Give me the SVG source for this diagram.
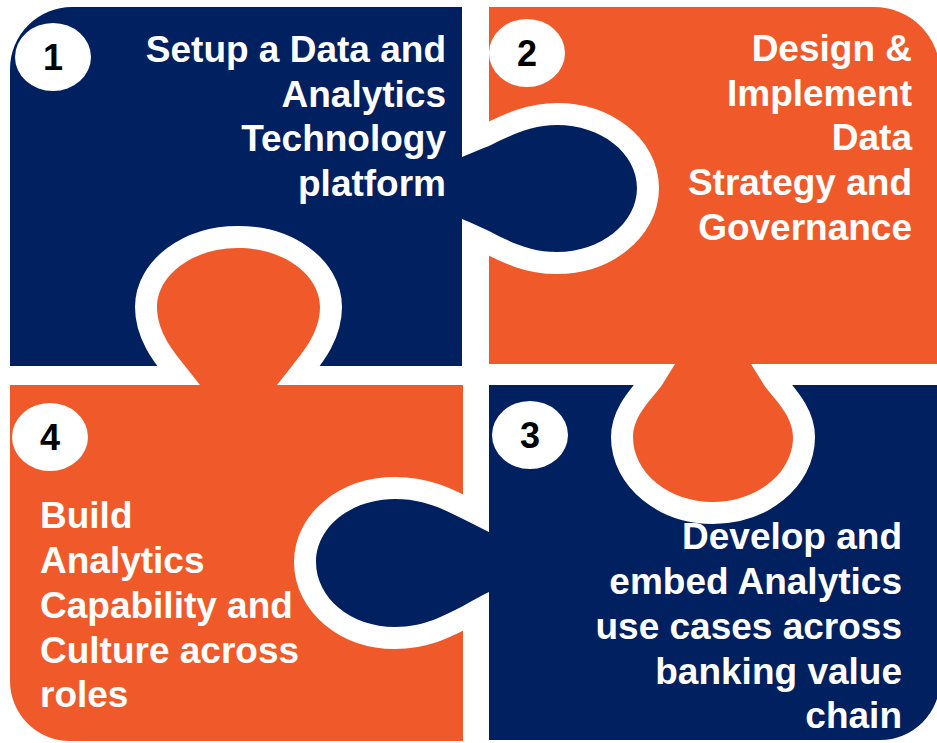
<svg xmlns="http://www.w3.org/2000/svg" width="937" height="743" viewBox="0 0 937 743">
  <style>
    .navy { fill: #002060; }
    .orange { fill: #F05A2A; }
    .badge { fill: #ffffff; }
    .num { font-family: "Liberation Sans", Arial, sans-serif; font-weight: bold; font-size: 36px; fill: #000000; text-anchor: middle; }
    .lbl { font-family: "Liberation Sans", Arial, sans-serif; font-weight: bold; font-size: 37px; fill: #ffffff; }
    .end { text-anchor: end; }
    .hole { fill: #000; stroke: #000; stroke-width: 44; stroke-linejoin: round; }
  </style>
  <defs>
    <path id="knobA" d="M 458,157 L 462,157 C 472,153 480,149 489,146 C 510,136 530,125 557,125 C 601,125 637,153 637,188 C 637,223 601,252 557,252 C 530,252 510,242 489,231 C 480,227 472,223 462,219 L 458,219 Z"/>
    <path id="knobB" d="M 200,389 L 200,385 L 185,366 C 175,353 157,333 157,307 C 157,275 193,248 238,248 C 284,248 320,275 320,307 C 320,333 302,353 292,366 L 277,385 L 277,389 Z"/>
    <path id="knobC" d="M 675,360 L 675,364 L 662,385 C 653,398 633,415 633,437 C 633,473 669,502 713,502 C 757,502 793,473 793,437 C 793,415 773,398 764,385 L 751,364 L 751,360 Z"/>
    <path id="knobD" d="M 493,532 L 489,532 C 480,528 472,523 463,519 C 445,510 425,499 395,499 C 351,499 316,527 316,562 C 316,598 351,627 395,627 C 425,627 445,615 463,606 C 472,601 480,596 489,592 L 493,592 Z"/>
    <mask id="mB" maskUnits="userSpaceOnUse" x="0" y="0" width="937" height="743">
      <rect width="937" height="743" fill="#fff"/>
      <use href="#knobB" class="hole"/>
    </mask>
    <mask id="mA" maskUnits="userSpaceOnUse" x="0" y="0" width="937" height="743">
      <rect width="937" height="743" fill="#fff"/>
      <use href="#knobA" class="hole"/>
    </mask>
    <mask id="mC" maskUnits="userSpaceOnUse" x="0" y="0" width="937" height="743">
      <rect width="937" height="743" fill="#fff"/>
      <use href="#knobC" class="hole"/>
    </mask>
    <mask id="mD" maskUnits="userSpaceOnUse" x="0" y="0" width="937" height="743">
      <rect width="937" height="743" fill="#fff"/>
      <use href="#knobD" class="hole"/>
    </mask>
  </defs>
  <rect width="937" height="743" fill="#ffffff"/>

  <g id="piece1">
    <g mask="url(#mB)">
      <path class="navy" d="M 10,69 A 62 62 0 0 1 72,7 L 462,7 L 462,366 L 10,366 Z"/>
      <use href="#knobA" class="navy"/>
    </g>
    <ellipse class="badge" cx="53" cy="57" rx="38" ry="34"/>
    <text class="num" x="53" y="70">1</text>
    <text class="lbl end" x="446" y="62">Setup a Data and</text>
    <text class="lbl end" x="446" y="106.5">Analytics</text>
    <text class="lbl end" x="446" y="151">Technology</text>
    <text class="lbl end" x="446" y="195.5">platform</text>
  </g>

  <g id="piece2">
    <g mask="url(#mA)">
      <path class="orange" d="M 489,7 L 874,7 A 66 66 0 0 1 940,73 L 940,364 L 489,364 Z"/>
      <use href="#knobC" class="orange"/>
    </g>
    <ellipse class="badge" cx="527" cy="53" rx="38" ry="34"/>
    <text class="num" x="527" y="66">2</text>
    <text class="lbl end" x="912" y="61">Design &amp;</text>
    <text class="lbl end" x="912" y="105.5">Implement</text>
    <text class="lbl end" x="912" y="150">Data</text>
    <text class="lbl end" x="912" y="195">Strategy and</text>
    <text class="lbl end" x="912" y="239.5">Governance</text>
  </g>

  <g id="piece3">
    <g mask="url(#mC)">
      <path class="navy" d="M 489,385 L 940,385 L 940,680 A 60 60 0 0 1 880,740 L 489,740 Z"/>
      <use href="#knobD" class="navy"/>
    </g>
    <ellipse class="badge" cx="530" cy="435" rx="38" ry="34"/>
    <text class="num" x="530" y="448">3</text>
    <text class="lbl end" x="902" y="549">Develop and</text>
    <text class="lbl end" x="902" y="594">embed Analytics</text>
    <text class="lbl end" x="902" y="639">use cases across</text>
    <text class="lbl end" x="902" y="684">banking value</text>
    <text class="lbl end" x="902" y="728">chain</text>
  </g>

  <g id="piece4">
    <g mask="url(#mD)">
      <path class="orange" d="M 10,385 L 463,385 L 463,741 L 70,741 A 60 60 0 0 1 10,681 Z"/>
      <use href="#knobB" class="orange"/>
    </g>
    <ellipse class="badge" cx="50" cy="437" rx="38" ry="34"/>
    <text class="num" x="50" y="450">4</text>
    <text class="lbl" x="40" y="528">Build</text>
    <text class="lbl" x="40" y="573">Analytics</text>
    <text class="lbl" x="40" y="618">Capability and</text>
    <text class="lbl" x="40" y="662.5">Culture across</text>
    <text class="lbl" x="40" y="707">roles</text>
  </g>

  <g id="connectors"/>
</svg>
